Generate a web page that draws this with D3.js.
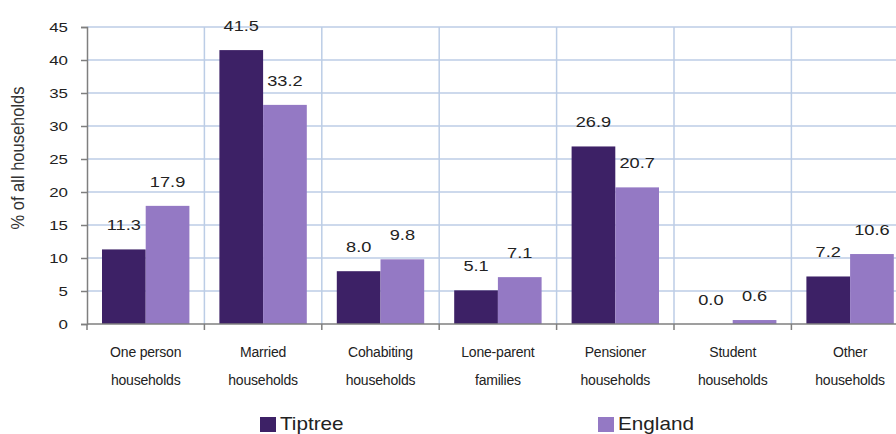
<!DOCTYPE html>
<html>
<head>
<meta charset="utf-8">
<script src="https://cdn.jsdelivr.net/npm/d3@7"></script>
<style>
  body { margin: 0; background: #fff; }
  svg { display: block; font-family: "Liberation Sans", Arial, sans-serif; }
</style>
</head>
<body>
<svg id="chart" width="896" height="434"></svg>
<script>
// data
const categories = [
  ["One person", "households"],
  ["Married", "households"],
  ["Cohabiting", "households"],
  ["Lone-parent", "families"],
  ["Pensioner", "households"],
  ["Student", "households"],
  ["Other", "households"]
];
const tiptree = [11.3, 41.5, 8.0, 5.1, 26.9, 0.0, 7.2];
const england = [17.9, 33.2, 9.8, 7.1, 20.7, 0.6, 10.6];
const seriesNames = ["Tiptree", "England"];
const yTicks = [0, 5, 10, 15, 20, 25, 30, 35, 40, 45];

const colors = ["#3d2166", "#9479c4"];
const gridColor = "#bccde6";
const axisColor = "#7f7f7f";

const svg = d3.select("#chart");
const plotLeft = 87, plotTop = 27, plotBottom = 324;
const bandW = 117.4;
const plotRight = plotLeft + bandW * categories.length;

// the source picture is stretched sideways, so text is widened a bit
function stretched(g, px, py, sx) {
  return g.append("text")
    .attr("transform", `translate(${px},${py}) scale(${sx},1)`);
}

const x = d3.scaleBand()
  .domain(d3.range(categories.length))
  .range([plotLeft, plotRight])
  .paddingInner(0)
  .paddingOuter(0);

const y = d3.scaleLinear().domain([0, 45]).range([plotBottom, plotTop]);

// horizontal gridlines
svg.append("g")
  .selectAll("line")
  .data(yTicks.filter(d => d > 0))
  .enter().append("line")
    .attr("x1", plotLeft).attr("x2", plotRight)
    .attr("y1", d => y(d)).attr("y2", d => y(d))
    .attr("stroke", gridColor).attr("stroke-width", 1.5);

// vertical gridlines (between categories)
svg.append("g")
  .selectAll("line")
  .data(d3.range(1, categories.length + 1))
  .enter().append("line")
    .attr("x1", d => plotLeft + d * bandW).attr("x2", d => plotLeft + d * bandW)
    .attr("y1", plotTop).attr("y2", plotBottom)
    .attr("stroke", gridColor).attr("stroke-width", 1.5);

// bars
const barPad = 15;
const barW = (bandW - 2 * barPad) / 2;
const series = [tiptree, england];

series.forEach((vals, s) => {
  svg.append("g")
    .selectAll("rect")
    .data(vals)
    .enter().append("rect")
      .attr("x", (d, i) => x(i) + barPad + s * barW)
      .attr("y", d => y(d))
      .attr("width", barW)
      .attr("height", d => plotBottom - y(d))
      .attr("fill", colors[s]);

  // value labels
  const lg = svg.append("g");
  vals.forEach((d, i) => {
    stretched(lg, x(i) + barPad + s * barW + barW / 2, y(d) - 19, 1.3)
      .attr("text-anchor", "middle")
      .attr("font-size", 14)
      .attr("fill", "#222")
      .text(d.toFixed(1));
  });
});

// y axis
const yAxis = svg.append("g")
  .attr("transform", `translate(${plotLeft},0)`)
  .call(d3.axisLeft(y).tickValues(yTicks).tickSize(6).tickFormat(""));
yAxis.select(".domain").attr("stroke", axisColor).attr("stroke-width", 1.5);
yAxis.selectAll(".tick line").attr("stroke", axisColor).attr("stroke-width", 1.5);

const tickG = svg.append("g");
yTicks.forEach(t => {
  stretched(tickG, 68, y(t) + 5, 1.25)
    .attr("text-anchor", "end")
    .attr("font-size", 13.5)
    .attr("fill", "#222")
    .text(t);
});

// x axis line and ticks
svg.append("line")
  .attr("x1", plotLeft).attr("x2", plotRight)
  .attr("y1", plotBottom).attr("y2", plotBottom)
  .attr("stroke", axisColor).attr("stroke-width", 1.5);
svg.append("g")
  .selectAll("line")
  .data(d3.range(0, categories.length + 1))
  .enter().append("line")
    .attr("x1", d => plotLeft + d * bandW).attr("x2", d => plotLeft + d * bandW)
    .attr("y1", plotBottom).attr("y2", plotBottom + 6)
    .attr("stroke", axisColor).attr("stroke-width", 1.5);

// category labels
const catG = svg.append("g");
categories.forEach((lines, i) => {
  lines.forEach((ln, j) => {
    catG.append("text")
      .attr("x", x(i) + bandW / 2)
      .attr("y", 357 + j * 28)
      .attr("text-anchor", "middle")
      .attr("font-size", 14)
      .attr("letter-spacing", -0.2)
      .attr("fill", "#222")
      .text(ln);
  });
});

// y axis title
svg.append("text")
  .attr("transform", "translate(24,158) rotate(-90) scale(1,1.1)")
  .attr("text-anchor", "middle")
  .attr("font-size", 16.5)
  .attr("fill", "#333")
  .text("% of all households");

// legend
const legendX = [260, 598];
const legG = svg.append("g");
seriesNames.forEach((name, s) => {
  legG.append("rect")
    .attr("x", legendX[s]).attr("y", 417)
    .attr("width", 16).attr("height", 15)
    .attr("fill", colors[s]);
  stretched(legG, legendX[s] + 20, 430, 1.15)
    .attr("font-size", 18)
    .attr("fill", "#222")
    .text(name);
});
</script>
</body>
</html>
